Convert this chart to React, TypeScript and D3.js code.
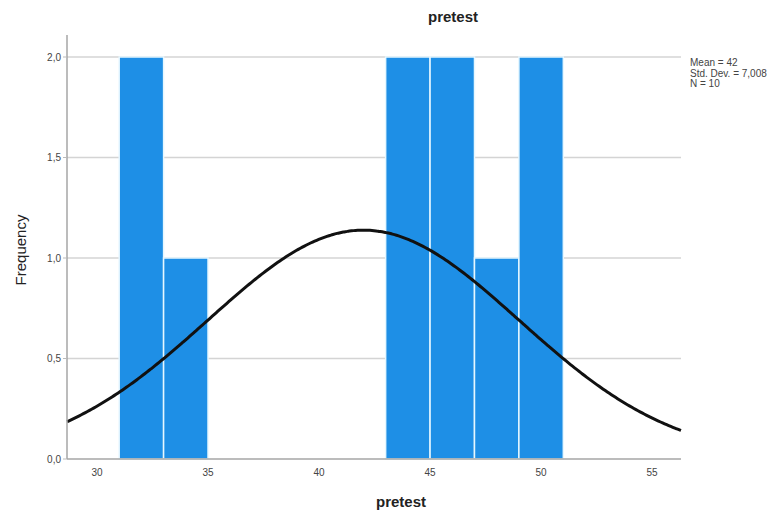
import React from "react";
import * as d3 from "d3";

const binStarts = [31, 33, 43, 45, 47, 49];
const binWidth = 2;
const counts = [2, 1, 2, 2, 1, 2];
const xTicks = [30, 35, 40, 45, 50, 55];
const yTicks = [0, 0.5, 1.0, 1.5, 2.0];
const mean = 42;
const sd = 7.008;
const n = 10;
const legendLines = ["Mean = 42", "Std. Dev. = 7,008", "N = 10"];

const W = 778;
const H = 512;
const left = 67;
const right = 681;
const bottom = 459;

export default function App() {
  const x = d3.scaleLinear().domain([28.65, 56.3]).range([left, right]);
  const y = d3.scaleLinear().domain([0, 2]).range([bottom, 57]);
  const fmt = (v: number) => v.toFixed(1).replace(".", ",");
  const [x0, x1] = x.domain();
  const pts = d3.range(0, 301).map((i) => {
    const xv = x0 + ((x1 - x0) * i) / 300;
    const z = (xv - mean) / sd;
    const f = (n * binWidth) / (sd * Math.sqrt(2 * Math.PI)) * Math.exp(-0.5 * z * z);
    return [xv, f] as [number, number];
  });
  const line = d3
    .line<[number, number]>()
    .x((d) => x(d[0]))
    .y((d) => y(d[1]))
    .curve(d3.curveBasis);
  const font = "'Liberation Sans', Arial, sans-serif";
  return (
    <svg
      width={W}
      height={H}
      style={{ position: "absolute", left: 0, top: 0, background: "#fff" }}
      fontFamily={font}
    >
      {yTicks.filter((t) => t > 0).map((t) => (
        <line key={t} x1={left} x2={right} y1={y(t)} y2={y(t)} stroke="#d4d4d4" strokeWidth={1.5} />
      ))}
      {binStarts.map((b, i) => (
        <rect
          key={b}
          x={x(b)}
          y={y(counts[i])}
          width={x(b + binWidth) - x(b)}
          height={y(0) - y(counts[i])}
          fill="#1e8fe6"
          stroke="#e6f7ff"
          strokeWidth={1.5}
        />
      ))}
      <path d={line(pts) || ""} fill="none" stroke="#111" strokeWidth={3} />
      <line x1={left} x2={left} y1={y(2.11)} y2={bottom} stroke="#a6a6a6" strokeWidth={1.5} />
      <line x1={left} x2={right} y1={bottom} y2={bottom} stroke="#a6a6a6" strokeWidth={1.5} />
      {yTicks.map((t) => (
        <g key={t}>
          <line x1={left - 4} x2={left} y1={y(t)} y2={y(t)} stroke="#bbb" />
          <text x={left - 6} y={y(t) + 3.5} textAnchor="end" fontSize={10} fill="#444">
            {fmt(t)}
          </text>
        </g>
      ))}
      {xTicks.map((t) => (
        <text key={t} x={x(t)} y={476} textAnchor="middle" fontSize={10} fill="#444">
          {t}
        </text>
      ))}
      <text x={453} y={22} textAnchor="middle" fontSize={15} fontWeight="bold" fill="#222">
        pretest
      </text>
      <text x={401} y={507} textAnchor="middle" fontSize={15} fontWeight="bold" fill="#222">
        pretest
      </text>
      <text
        transform={`translate(26,250) rotate(-90)`}
        textAnchor="middle"
        fontSize={15}
        fill="#222"
      >
        Frequency
      </text>
      {legendLines.map((s, i) => (
        <text key={s} x={690} y={66 + i * 10.5} fontSize={10} fill="#444">
          {s}
        </text>
      ))}
    </svg>
  );
}
